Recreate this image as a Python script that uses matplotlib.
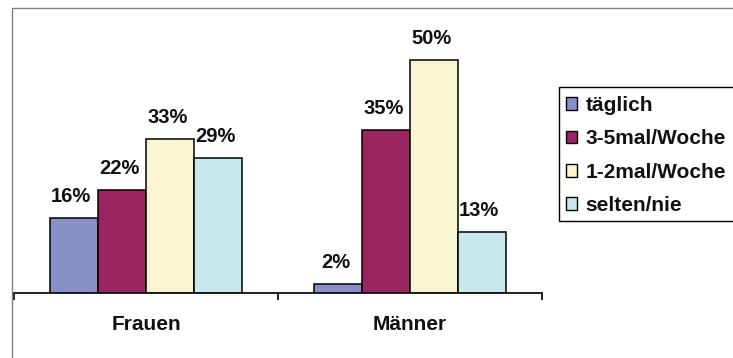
import matplotlib
matplotlib.use("Agg")
import matplotlib.pyplot as plt
from matplotlib.patches import Rectangle
import numpy as np

categories = ["Frauen", "Männer"]
series = ["täglich", "3-5mal/Woche", "1-2mal/Woche", "selten/nie"]
values = {
    "täglich": [16, 2],
    "3-5mal/Woche": [22, 35],
    "1-2mal/Woche": [33, 50],
    "selten/nie": [29, 13],
}
colors = ["#8890C8", "#9A2560", "#F8F5D0", "#C8E8EE"]

plt.rcParams["font.family"] = ["Liberation Sans", "DejaVu Sans"]

W, H = 733, 358
fig = plt.figure(figsize=(W / 100, H / 100), dpi=100)

# outer chart border (gray)
fig.patches.append(Rectangle((12 / W, -0.1), 1.2, 1 - 8 / H + 0.1,
                             transform=fig.transFigure, fill=False,
                             edgecolor="#808080", linewidth=1.0))

ax = fig.add_axes([14 / W, (H - 293) / H, (542 - 14) / W, (293 - 13) / H])
x = np.arange(len(categories))
bw = 48 / 264
n = len(series)
for i, (s, c) in enumerate(zip(series, colors)):
    pos = x + (i - (n - 1) / 2) * bw
    ax.bar(pos, values[s], width=bw, color=c, edgecolor="black",
           linewidth=1.1, label=s)
    for p, v in zip(pos, values[s]):
        ax.text(p - 0.01, v + 3.4, f"{v}%", ha="center", va="baseline",
                fontsize=14.5, fontweight="bold", color="#111111")

ax.set_xlim(-0.5, 1.5)
ax.set_ylim(0, 60)
ax.set_yticks([])
for sp in ["left", "right", "top"]:
    ax.spines[sp].set_visible(False)
ax.spines["bottom"].set_linewidth(1.3)
ax.spines["bottom"].set_color("#111111")
ax.set_xticks(x)
ax.set_xticklabels(categories, fontsize=15, fontweight="bold")
ax.tick_params(axis="x", which="major", length=0, pad=16, colors="#111111")
ax.set_xticks([-0.5, 0.5, 1.5], minor=True)
ax.tick_params(axis="x", which="minor", length=5, width=1.3, color="#111111")
ax.patch.set_alpha(0)

# legend (frame drawn manually, extends past the right edge)
fig.patches.append(Rectangle((559 / W, 1 - 221 / H), 1.0, (221 - 87) / H,
                             transform=fig.transFigure, fill=False,
                             edgecolor="black", linewidth=1.0, zorder=5))
leg = fig.legend(loc="upper left", bbox_to_anchor=(566 / W, 1 - 96 / H),
                 fontsize=15, frameon=False,
                 handlelength=0.55, handleheight=0.55,
                 handletextpad=0.4, labelspacing=0.69, borderpad=0,
                 borderaxespad=0)
for t in leg.get_texts():
    t.set_fontweight("bold")
    t.set_color("#111111")
for h in leg.legend_handles:
    h.set_linewidth(1.0)
    h.set_edgecolor("black")

fig.savefig("out.png", dpi=100)
